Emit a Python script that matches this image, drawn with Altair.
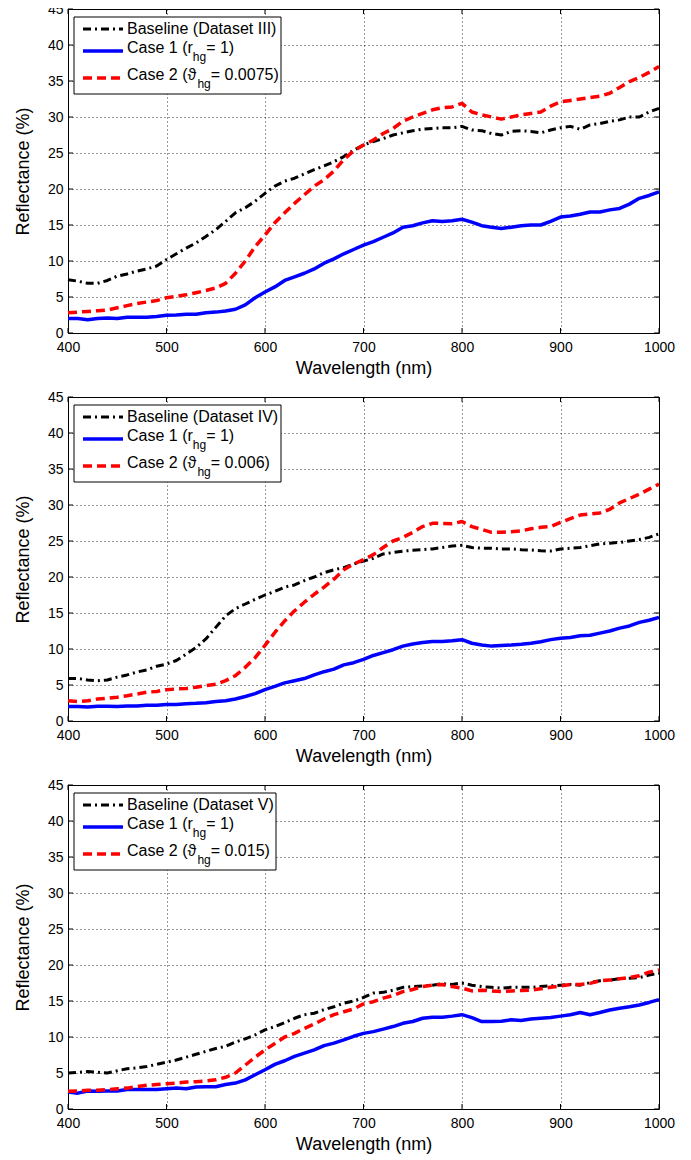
import altair as alt
import pandas as pd

# ---------------- data ----------------
wavelength = [400, 410, 420, 430, 440, 450, 460, 470, 480, 490,
              500, 510, 520, 530, 540, 550, 560, 570, 580, 590,
              600, 610, 620, 630, 640, 650, 660, 670, 680, 690,
              700, 710, 720, 730, 740, 750, 760, 770, 780, 790,
              800, 810, 820, 830, 840, 850, 860, 870, 880, 890,
              900, 910, 920, 930, 940, 950, 960, 970, 980, 990, 1000]

x_ticks = [400, 500, 600, 700, 800, 900, 1000]
y_ticks = [0, 5, 10, 15, 20, 25, 30, 35, 40, 45]

# Panel 1 (Dataset III)
baseline_iii = [7.4, 7.2, 6.9, 6.9, 7.3, 7.9, 8.2, 8.6, 8.9, 9.3,
                10.2, 11.0, 11.8, 12.5, 13.4, 14.35, 15.5, 16.7, 17.4, 18.3,
                19.4, 20.4, 21.1, 21.5, 22.1, 22.7, 23.2, 23.8, 24.5, 25.4,
                26.1, 26.6, 27.0, 27.5, 27.8, 28.1, 28.3, 28.4, 28.5, 28.5,
                28.7, 28.2, 28.1, 27.7, 27.5, 28.0, 28.1, 28.0, 27.8, 28.2,
                28.5, 28.7, 28.3, 28.9, 29.1, 29.4, 29.6, 30.0, 30.0, 30.7, 31.2]
case1_iii = [2.0, 2.0, 1.85, 2.0, 2.1, 2.0, 2.2, 2.2, 2.2, 2.3,
             2.45, 2.5, 2.6, 2.6, 2.8, 2.9, 3.05, 3.3, 3.9, 4.9,
             5.7, 6.4, 7.3, 7.8, 8.3, 8.9, 9.7, 10.3, 11.0, 11.6,
             12.2, 12.7, 13.3, 13.9, 14.7, 14.9, 15.3, 15.6, 15.5, 15.6,
             15.8, 15.4, 14.9, 14.7, 14.5, 14.7, 14.9, 15.0, 15.0, 15.5,
             16.1, 16.25, 16.5, 16.8, 16.8, 17.1, 17.3, 17.9, 18.7, 19.1, 19.6]
case2_iii = [2.8, 2.9, 3.0, 3.1, 3.2, 3.5, 3.8, 4.1, 4.3, 4.5,
             4.9, 5.1, 5.3, 5.6, 5.9, 6.25, 6.9, 8.3, 10.0, 12.0,
             13.6, 15.3, 16.7, 18.0, 19.2, 20.4, 21.3, 22.5, 24.1, 25.3,
             26.1, 26.8, 27.7, 28.4, 29.4, 30.0, 30.5, 31.0, 31.3, 31.4,
             31.9, 30.7, 30.3, 30.0, 29.7, 30.0, 30.3, 30.5, 30.7, 31.5,
             32.1, 32.3, 32.5, 32.7, 32.9, 33.3, 34.1, 34.9, 35.5, 36.2, 37.0]

# Panel 2 (Dataset IV)
baseline_iv = [5.9, 5.9, 5.7, 5.6, 5.7, 6.1, 6.4, 6.8, 7.1, 7.6,
               7.9, 8.4, 9.3, 10.2, 11.4, 13.0, 14.6, 15.6, 16.25, 16.9,
               17.5, 18.0, 18.6, 18.9, 19.5, 20.0, 20.6, 21.0, 21.3, 21.8,
               22.2, 22.6, 23.2, 23.4, 23.6, 23.7, 23.8, 23.9, 24.1, 24.3,
               24.4, 24.1, 24.0, 24.0, 23.9, 23.9, 23.8, 23.75, 23.65, 23.6,
               23.9, 24.0, 24.1, 24.35, 24.6, 24.7, 24.8, 25.0, 25.2, 25.5, 26.0]
case1_iv = [2.0, 2.0, 1.95, 2.05, 2.05, 2.0, 2.1, 2.1, 2.2, 2.2,
            2.3, 2.3, 2.4, 2.45, 2.55, 2.7, 2.8, 3.05, 3.4, 3.8,
            4.35, 4.8, 5.3, 5.6, 5.9, 6.4, 6.85, 7.2, 7.8, 8.1,
            8.55, 9.1, 9.5, 9.9, 10.4, 10.7, 10.9, 11.05, 11.05, 11.15,
            11.3, 10.8, 10.55, 10.4, 10.5, 10.55, 10.65, 10.8, 11.0, 11.3,
            11.5, 11.6, 11.85, 11.9, 12.2, 12.5, 12.9, 13.2, 13.7, 14.0, 14.4]
case2_iv = [2.8, 2.7, 2.8, 3.05, 3.15, 3.3, 3.5, 3.75, 4.0, 4.1,
            4.35, 4.45, 4.5, 4.7, 4.9, 5.1, 5.6, 6.3, 7.45, 8.8,
            10.5, 12.3, 13.9, 15.3, 16.5, 17.6, 18.6, 19.7, 21.0, 21.8,
            22.4, 23.1, 24.1, 25.0, 25.5, 26.2, 27.0, 27.45, 27.45, 27.4,
            27.7, 27.0, 26.6, 26.2, 26.2, 26.3, 26.4, 26.7, 26.9, 27.0,
            27.6, 28.1, 28.6, 28.75, 28.9, 29.4, 30.3, 30.9, 31.5, 32.2, 32.9]

# Panel 3 (Dataset V)
baseline_v = [5.0, 5.1, 5.2, 5.1, 5.0, 5.3, 5.6, 5.7, 5.9, 6.2,
              6.5, 6.8, 7.2, 7.6, 8.0, 8.4, 8.7, 9.3, 9.75, 10.3,
              11.0, 11.45, 12.0, 12.6, 13.1, 13.3, 13.8, 14.2, 14.7, 15.0,
              15.5, 16.1, 16.2, 16.5, 16.9, 17.0, 17.1, 17.2, 17.4, 17.3,
              17.5, 17.2, 17.0, 16.9, 16.8, 16.9, 16.9, 16.9, 17.0, 17.1,
              17.2, 17.3, 17.2, 17.55, 17.8, 17.9, 18.1, 18.15, 18.25, 18.6, 18.85]
case1_v = [2.35, 2.2, 2.5, 2.45, 2.5, 2.5, 2.7, 2.7, 2.7, 2.7,
           2.8, 2.9, 2.8, 3.05, 3.1, 3.1, 3.4, 3.6, 4.05, 4.75,
           5.45, 6.2, 6.7, 7.3, 7.75, 8.2, 8.8, 9.15, 9.6, 10.1,
           10.5, 10.75, 11.1, 11.45, 11.9, 12.15, 12.6, 12.75, 12.75, 12.9,
           13.1, 12.7, 12.15, 12.15, 12.2, 12.4, 12.3, 12.5, 12.6, 12.7,
           12.9, 13.1, 13.4, 13.1, 13.4, 13.75, 14.0, 14.2, 14.45, 14.8, 15.2]
case2_v = [2.45, 2.5, 2.6, 2.6, 2.7, 2.8, 2.9, 3.1, 3.3, 3.4,
           3.5, 3.6, 3.75, 3.8, 3.9, 4.05, 4.4, 5.0, 6.1, 7.2,
           8.2, 9.1, 10.0, 10.5, 11.2, 11.8, 12.5, 13.1, 13.5, 13.9,
           14.6, 14.9, 15.4, 15.75, 16.3, 16.6, 17.0, 17.2, 17.3, 17.0,
           16.8, 16.4, 16.5, 16.4, 16.3, 16.4, 16.45, 16.5, 16.7, 16.9,
           17.1, 17.3, 17.3, 17.45, 17.8, 17.9, 18.1, 18.25, 18.5, 19.0, 19.3]

# legend texts: (main, subscript, rest)
legend_iii = ["Baseline (Dataset III)", ("Case 1 (r", "hg", "= 1)"), ("Case 2 (\u03d1", "hg", "= 0.0075)")]
legend_iv = ["Baseline (Dataset IV)", ("Case 1 (r", "hg", "= 1)"), ("Case 2 (\u03d1", "hg", "= 0.006)")]
legend_v = ["Baseline (Dataset V)", ("Case 1 (r", "hg", "= 1)"), ("Case 2 (\u03d1", "hg", "= 0.015)")]

# ---------------- styling ----------------
FONT = "Liberation Sans"
W, H = 591, 324
LEG_FS = 16
SUB_FS = 12
DASHDOT = [8, 4, 2, 4]
DASH = [9, 5]


def text_width(s, size):
    w = {' ': 278, '(': 333, ')': 333, '=': 584, '.': 278, 'C': 722, 'a': 556,
         's': 500, 'e': 556, 'r': 333, 'h': 556, 'g': 556, '\u03d1': 620}
    for d in '0123456789':
        w[d] = 556
    return sum(w.get(c, 556) for c in s) * size / 1000.0


def panel(base, c1, c2, legend, box_w):
    df = pd.DataFrame({"wl": wavelength, "base": base, "c1": c1, "c2": c2})
    xs = alt.Scale(domain=[400, 1000], nice=False, zero=False)
    ys = alt.Scale(domain=[0, 45], nice=False, zero=False)
    common = dict(grid=True, gridDash=[1, 3], gridColor="black", gridWidth=1, gridOpacity=0.8,
                  domain=False, ticks=False, labelFontSize=14, titleFontSize=18,
                  labelFont=FONT, titleFont=FONT, labelColor="black", titleColor="black",
                  titleFontWeight="normal", labelFlush=False, labelOverlap=False, format="d")
    x_axis = alt.Axis(values=x_ticks, title="Wavelength (nm)", labelPadding=7, titlePadding=5, **common)
    y_axis = alt.Axis(values=y_ticks, title="Reflectance (%)", labelPadding=5, titlePadding=15, **common)

    xt = pd.DataFrame({"t": x_ticks})
    yt = pd.DataFrame({"t": y_ticks})

    # ticks drawn inside the frame (they also carry the axes definitions)
    tick_top = alt.Chart(xt).mark_rule(color="black", strokeWidth=1).encode(
        x=alt.X("t:Q", scale=xs, axis=x_axis), y=alt.value(0), y2=alt.value(5))
    tick_bot = alt.Chart(xt).mark_rule(color="black", strokeWidth=1).encode(
        x=alt.X("t:Q", scale=xs, axis=x_axis), y=alt.value(H - 5), y2=alt.value(H))
    tick_left = alt.Chart(yt).mark_rule(color="black", strokeWidth=1).encode(
        y=alt.Y("t:Q", scale=ys, axis=y_axis), x=alt.value(0), x2=alt.value(5))
    tick_right = alt.Chart(yt).mark_rule(color="black", strokeWidth=1).encode(
        y=alt.Y("t:Q", scale=ys, axis=y_axis), x=alt.value(W - 5), x2=alt.value(W))

    base_line = alt.Chart(df).mark_line(color="black", strokeWidth=3, strokeDash=DASHDOT,
                                        strokeJoin="round").encode(
        x=alt.X("wl:Q", scale=xs, axis=x_axis),
        y=alt.Y("base:Q", scale=ys, axis=y_axis))
    c1_line = alt.Chart(df).mark_line(color="#0000ff", strokeWidth=3.5, strokeJoin="round").encode(
        x=alt.X("wl:Q", scale=xs, axis=x_axis), y=alt.Y("c1:Q", scale=ys, axis=y_axis))
    c2_line = alt.Chart(df).mark_line(color="#ff0000", strokeWidth=3.5, strokeDash=DASH,
                                      strokeJoin="round").encode(
        x=alt.X("wl:Q", scale=xs, axis=x_axis), y=alt.Y("c2:Q", scale=ys, axis=y_axis))

    # legend
    one = pd.DataFrame({"k": [0]})
    rows = [20, 42, 69]
    bx0 = 6
    box = alt.Chart(one).mark_rect(fill="white", stroke="black", strokeWidth=1).encode(
        x=alt.value(bx0), x2=alt.value(bx0 + box_w), y=alt.value(8), y2=alt.value(85))
    s1 = alt.Chart(one).mark_rule(color="black", strokeWidth=3, strokeDash=DASHDOT).encode(
        x=alt.value(15), x2=alt.value(55), y=alt.value(rows[0]))
    s2 = alt.Chart(one).mark_rule(color="#0000ff", strokeWidth=3.5).encode(
        x=alt.value(15), x2=alt.value(55), y=alt.value(rows[1]))
    s3 = alt.Chart(one).mark_rule(color="#ff0000", strokeWidth=3.5, strokeDash=DASH).encode(
        x=alt.value(15), x2=alt.value(55), y=alt.value(rows[2]))
    tx = 59
    texts = [alt.Chart(one).mark_text(align="left", baseline="middle", font=FONT, fontSize=LEG_FS,
                                      color="black").encode(
        x=alt.value(tx), y=alt.value(rows[0]), text=alt.value(legend[0]))]
    for (main, sub, rest), ry in zip(legend[1:], rows[1:]):
        x1 = tx + text_width(main, LEG_FS)
        x2 = x1 + text_width(sub, SUB_FS)
        texts.append(alt.Chart(one).mark_text(align="left", baseline="middle", font=FONT,
                                              fontSize=LEG_FS, color="black").encode(
            x=alt.value(tx), y=alt.value(ry - 3), text=alt.value(main)))
        texts.append(alt.Chart(one).mark_text(align="left", baseline="middle", font=FONT,
                                              fontSize=SUB_FS, color="black").encode(
            x=alt.value(x1), y=alt.value(ry + 6), text=alt.value(sub)))
        texts.append(alt.Chart(one).mark_text(align="left", baseline="middle", font=FONT,
                                              fontSize=LEG_FS, color="black").encode(
            x=alt.value(x2), y=alt.value(ry - 3), text=alt.value(rest)))

    return alt.layer(tick_top, tick_bot, tick_left, tick_right, base_line, c1_line, c2_line,
                     box, s1, s2, s3, *texts).properties(width=W, height=H)


p1 = panel(baseline_iii, case1_iii, case2_iii, legend_iii, 207)
p2 = panel(baseline_iv, case1_iv, case2_iv, legend_iv, 207)
p3 = panel(baseline_v, case1_v, case2_v, legend_v, 202)

chart = alt.vconcat(p1, p2, p3, spacing=11).properties(
    padding={"left": 5, "top": -7, "right": 5, "bottom": 0}
).configure(font=FONT).configure_view(stroke="black", strokeWidth=1)

chart.save("out.html", embed_options={"renderer": "svg", "actions": False})
